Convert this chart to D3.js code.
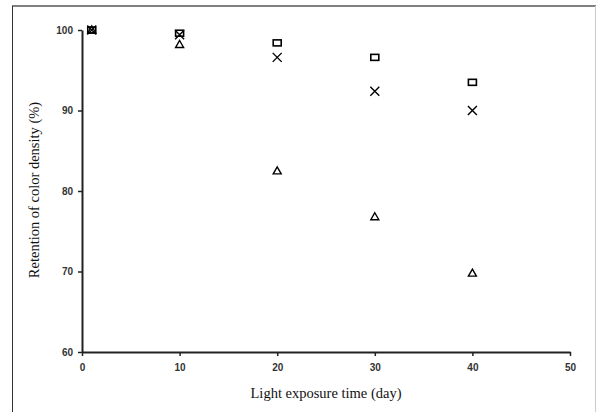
<!DOCTYPE html>
<html><head><meta charset="utf-8">
<script src="https://cdn.jsdelivr.net/npm/d3@7"></script>
<style>body{margin:0;background:#fff}svg{display:block}</style>
</head><body>
<svg id="c" width="596" height="412"></svg>
<script>
const days = [1, 10, 20, 30, 40];
const seriesSquare = [100, 99.6, 98.4, 96.6, 93.5];
const seriesCross = [100, 99.4, 96.6, 92.4, 90.0];
const seriesTriangle = [100, 98.2, 82.5, 76.8, 69.8];
const xTicks = [0, 10, 20, 30, 40, 50];
const yTicks = [60, 70, 80, 90, 100];

const svg = d3.select('#c');
// outer frame
svg.append('line').attr('x1',12).attr('x2',596).attr('y1',6).attr('y2',6).attr('stroke','#808080').attr('stroke-width',2);
svg.append('line').attr('x1',12.5).attr('x2',12.5).attr('y1',6).attr('y2',412).attr('stroke','#333').attr('stroke-width',1);
svg.append('line').attr('x1',595.5).attr('x2',595.5).attr('y1',6).attr('y2',412).attr('stroke','#ccc').attr('stroke-width',1);

const x = d3.scaleLinear().domain([0,50]).range([82,570]);
const y = d3.scaleLinear().domain([60,100]).range([352,30]);

const xAxis = svg.append('g').attr('transform','translate(0,352)')
  .call(d3.axisBottom(x).tickValues(xTicks).tickSizeInner(4).tickSizeOuter(0).tickPadding(8));
const yAxis = svg.append('g').attr('transform','translate(82,0)')
  .call(d3.axisLeft(y).tickValues(yTicks).tickSizeInner(4).tickSizeOuter(0).tickPadding(5));
[xAxis,yAxis].forEach(g=>{
  g.select('.domain').attr('stroke','#222').attr('stroke-width',2);
  g.selectAll('.tick line').attr('stroke','#222').attr('stroke-width',1.5);
  g.selectAll('.tick text').attr('font-family','Liberation Sans, Arial, sans-serif').attr('font-size',10).attr('font-weight','bold').attr('fill','#333');
});

svg.append('text').attr('x',326).attr('y',398).attr('text-anchor','middle')
  .attr('font-family','Liberation Serif, Times New Roman, serif').attr('font-size',14.5).attr('fill','#111')
  .text('Light exposure time (day)');
svg.append('text').attr('transform','translate(39,190) rotate(-90)').attr('text-anchor','middle')
  .attr('font-family','Liberation Serif, Times New Roman, serif').attr('font-size',14.5).attr('fill','#111')
  .text('Retention of color density (%)');

const g = svg.append('g');
g.selectAll('rect.sq').data(days.map((d,i)=>[d,seriesSquare[i]])).join('rect')
  .attr('x',d=>x(d[0])-4).attr('y',d=>y(d[1])-3).attr('width',8).attr('height',6)
  .attr('fill','none').attr('stroke','#000').attr('stroke-width',1.6);
g.selectAll('path.cr').data(days.map((d,i)=>[d,seriesCross[i]])).join('path')
  .attr('d',d=>{const cx=x(d[0]),cy=y(d[1]),s=4.5;return `M${cx-s},${cy-s}L${cx+s},${cy+s}M${cx-s},${cy+s}L${cx+s},${cy-s}`;})
  .attr('stroke','#000').attr('stroke-width',1.4).attr('fill','none');
g.selectAll('path.tr').data(days.map((d,i)=>[d,seriesTriangle[i]])).join('path')
  .attr('d',d=>{const cx=x(d[0]),cy=y(d[1]);return `M${cx},${cy-4}L${cx+4},${cy+3}L${cx-4},${cy+3}Z`;})
  .attr('stroke','#000').attr('stroke-width',1.4).attr('fill','none');
</script>
</body></html>
